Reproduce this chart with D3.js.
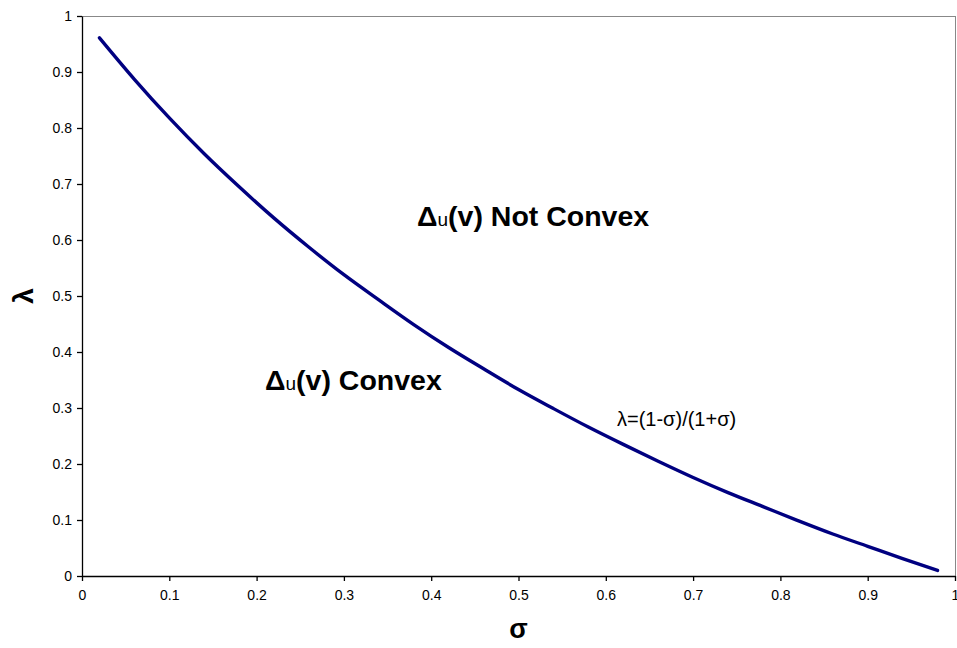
<!DOCTYPE html>
<html><head><meta charset="utf-8">
<script src="https://cdn.jsdelivr.net/npm/d3@7"></script>
<style>body{margin:0;background:#fff}svg{display:block}text{font-family:"Liberation Sans",Arial,sans-serif}</style>
</head><body>
<script>
const sigma = [0.02,0.06,0.10,0.14,0.18,0.22,0.26,0.30,0.34,0.38,0.42,0.46,0.50,0.54,0.58,0.62,0.66,0.70,0.74,0.78,0.82,0.86,0.90,0.94,0.98];
const lambda = [0.961,0.887,0.818,0.754,0.695,0.639,0.587,0.538,0.493,0.449,0.408,0.370,0.333,0.299,0.266,0.235,0.205,0.176,0.149,0.124,0.099,0.075,0.053,0.031,0.010];
const xTicks = [0,0.1,0.2,0.3,0.4,0.5,0.6,0.7,0.8,0.9,1];
const yTicks = [0,0.1,0.2,0.3,0.4,0.5,0.6,0.7,0.8,0.9,1];

const W=957,H=648, L=82,R=955,T=16,B=576;
const svg=d3.select("body").append("svg").attr("width",W).attr("height",H);
const x=d3.scaleLinear().domain([0,1]).range([L,R]);
const y=d3.scaleLinear().domain([0,1]).range([B,T]);

svg.append("line").attr("x1",L).attr("x2",R).attr("y1",T+0.5).attr("y2",T+0.5).attr("stroke","#888").attr("stroke-width",1);
svg.append("line").attr("x1",R+0.5).attr("x2",R+0.5).attr("y1",T).attr("y2",B).attr("stroke","#888").attr("stroke-width",1);

const fmt=d=>d===0||d===1?String(d):d3.format(".1f")(d);
const xa=svg.append("g").attr("transform",`translate(0,${B})`)
  .call(d3.axisBottom(x).tickValues(xTicks).tickFormat(fmt).tickSize(5).tickPadding(9).tickSizeOuter(0));
const ya=svg.append("g").attr("transform",`translate(${L},0)`)
  .call(d3.axisLeft(y).tickValues(yTicks).tickFormat(fmt).tickSize(5).tickPadding(5).tickSizeOuter(0));
[xa,ya].forEach(a=>{
  a.selectAll("text").attr("fill","#000").style("font-size","14px").style("font-family","'Liberation Sans',Arial,sans-serif");
  a.selectAll("line,path").attr("stroke","#000").attr("stroke-width",1.3);});

const line=d3.line().x((d,i)=>x(sigma[i])).y(d=>y(d)).curve(d3.curveMonotoneX);
svg.append("path").datum(lambda).attr("d",line).attr("fill","none").attr("stroke","#000080").attr("stroke-width",3.4).attr("stroke-linecap","round");

svg.append("text").attr("x",x(0.5)).attr("y",638).attr("text-anchor","middle").attr("font-size",27).attr("font-weight","bold").text("σ");
svg.append("text").attr("transform",`translate(33,${y(0.5)}) rotate(-90)`).attr("text-anchor","middle").attr("font-size",28).attr("font-weight","bold").text("λ");

function delta(tx,ty,rest){
  const t=svg.append("text").attr("x",tx).attr("y",ty).attr("font-size",28.5).attr("font-weight","bold");
  t.append("tspan").text("Δ");
  t.append("tspan").attr("font-size",19).attr("font-weight","normal").text("u");
  t.append("tspan").text(rest);
}
delta(417,226,"(v) Not Convex");
delta(265,390,"(v) Convex");
svg.append("text").attr("x",617).attr("y",426).attr("font-size",20).text("λ=(1-σ)/(1+σ)");
</script>
</body></html>
